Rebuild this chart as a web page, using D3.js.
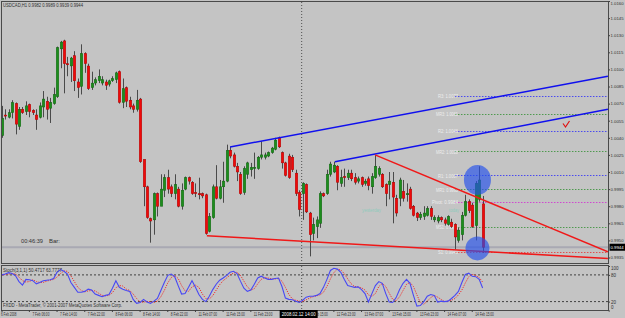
<!DOCTYPE html>
<html>
<head>
<meta charset="utf-8">
<script src="https://cdn.jsdelivr.net/npm/d3@7"></script>
<style>
  body { margin: 0; background: #c4c4c4; }
  svg { display: block; font-family: "Liberation Sans", Arial, sans-serif; }
</style>
</head>
<body>
<svg id="chart" width="625" height="318"></svg>
<script>
// USDCAD H1 candles, 6 Feb 22:00 .. 14 Feb 18:00 (bar index 0..139)
const opens = [1.0042,1.0060,1.0058,1.0062,1.0070,1.0050,1.0065,1.0063,1.0069,1.0064,
  1.0060,1.0058,1.0067,1.0072,1.0066,1.0070,1.0076,1.0118,1.0125,1.0105,
  1.0103,1.0112,1.0089,1.0085,1.0114,1.0103,1.0084,1.0088,1.0090,1.0088,
  1.0089,1.0087,1.0090,1.0091,1.0098,1.0071,1.0084,1.0073,1.0068,1.0065,
  1.0074,1.0021,0.9997,0.9969,0.9968,0.9991,0.9980,0.9994,1.0005,0.9997,
  0.9991,0.9995,0.9980,0.9995,1.0005,1.0001,0.9992,0.9991,0.9991,0.9990,
  0.9958,0.9970,0.9997,0.9987,0.9997,1.0002,1.0029,1.0025,1.0015,1.0008,
  0.9992,1.0008,1.0012,1.0014,1.0013,1.0023,1.0023,1.0024,1.0027,1.0030,
  1.0040,1.0027,1.0018,1.0024,1.0023,1.0009,0.9992,0.9991,0.9999,0.9974,
  0.9956,0.9962,0.9965,0.9991,0.9991,1.0008,1.0010,1.0015,1.0000,1.0006,
  1.0005,1.0009,1.0005,1.0002,1.0005,1.0000,1.0004,0.9997,1.0005,1.0008,
  1.0008,0.9999,0.9999,1.0001,0.9987,0.9987,0.9993,0.9990,0.9995,0.9980,
  0.9974,0.9970,0.9971,0.9972,0.9978,0.9968,0.9967,0.9970,0.9968,0.9964,
  0.9966,0.9964,0.9950,0.9955,0.9972,0.9984,0.9981,0.9963,0.9986,0.9982];
const highs = [1.0068,1.0065,1.0065,1.0073,1.0071,1.0067,1.0067,1.0072,1.0070,1.0065,
  1.0065,1.0071,1.0081,1.0076,1.0075,1.0084,1.0120,1.0125,1.0126,1.0111,
  1.0111,1.0116,1.0092,1.0122,1.0115,1.0105,1.0098,1.0093,1.0100,1.0094,
  1.0091,1.0091,1.0094,1.0098,1.0099,1.0092,1.0085,1.0076,1.0070,1.0082,
  1.0075,1.0021,0.9998,0.9970,0.9992,0.9992,1.0008,1.0008,1.0012,0.9999,
  1.0008,0.9997,1.0000,1.0006,1.0006,1.0002,1.0000,1.0005,0.9992,0.9991,
  0.9974,0.9999,1.0016,1.0003,1.0019,1.0034,1.0032,1.0027,1.0018,1.0010,
  1.0015,1.0019,1.0018,1.0027,1.0024,1.0037,1.0027,1.0028,1.0032,1.0040,
  1.0041,1.0028,1.0019,1.0026,1.0025,1.0012,0.9994,1.0001,1.0000,0.9975,
  0.9970,0.9971,0.9993,0.9992,1.0012,1.0019,1.0019,1.0016,1.0012,1.0013,
  1.0012,1.0012,1.0009,1.0006,1.0006,1.0004,1.0006,1.0009,1.0025,1.0015,
  1.0009,1.0000,1.0010,1.0010,0.9990,1.0005,1.0003,1.0000,0.9997,0.9981,
  0.9975,0.9975,0.9980,0.9980,0.9980,0.9972,0.9972,0.9971,0.9970,0.9972,
  0.9969,0.9965,0.9961,0.9975,0.9990,0.9986,0.9983,1.0002,1.0015,0.9989];
const lows = [1.0040,1.0056,1.0057,1.0057,1.0043,1.0047,1.0061,1.0060,1.0058,1.0060,
  1.0047,1.0057,1.0058,1.0056,1.0053,1.0069,1.0075,1.0101,1.0079,1.0094,
  1.0089,1.0081,1.0075,1.0078,1.0097,1.0082,1.0082,1.0086,1.0088,1.0086,
  1.0082,1.0085,1.0089,1.0088,1.0070,1.0066,1.0067,1.0065,1.0062,1.0063,
  1.0018,0.9980,0.9969,0.9948,0.9955,0.9971,0.9980,0.9988,0.9991,0.9988,
  0.9986,0.9979,0.9977,0.9994,0.9999,0.9990,0.9988,0.9986,0.9987,0.9955,
  0.9957,0.9969,0.9986,0.9986,0.9983,1.0001,1.0022,1.0014,1.0002,0.9990,
  0.9990,1.0004,1.0006,1.0004,1.0012,1.0021,1.0021,1.0023,1.0026,1.0029,
  1.0031,1.0013,1.0006,1.0004,1.0010,0.9989,0.9971,0.9968,0.9974,0.9936,
  0.9950,0.9952,0.9961,0.9988,0.9990,1.0006,1.0009,0.9994,0.9997,0.9997,
  1.0003,1.0002,0.9999,1.0000,0.9997,0.9998,0.9994,0.9991,1.0004,1.0006,
  0.9996,0.9980,0.9986,0.9965,0.9971,0.9980,0.9984,0.9984,0.9977,0.9971,
  0.9967,0.9968,0.9968,0.9971,0.9968,0.9966,0.9965,0.9966,0.9963,0.9963,
  0.9961,0.9942,0.9948,0.9950,0.9971,0.9974,0.9961,0.9950,0.9984,0.9939];
const closes = [1.0057,1.0059,1.0062,1.0071,1.0052,1.0065,1.0062,1.0068,1.0063,1.0062,
  1.0056,1.0068,1.0074,1.0065,1.0071,1.0078,1.0119,1.0124,1.0105,1.0104,
  1.0110,1.0090,1.0084,1.0114,1.0105,1.0083,1.0088,1.0091,1.0094,1.0091,
  1.0086,1.0090,1.0092,1.0097,1.0071,1.0083,1.0072,1.0067,1.0065,1.0073,
  1.0019,0.9997,0.9970,0.9967,0.9991,0.9980,0.9995,1.0005,0.9995,0.9991,
  0.9999,0.9980,0.9994,1.0005,1.0002,0.9991,0.9991,0.9990,0.9989,0.9956,
  0.9971,0.9997,0.9987,0.9997,1.0002,1.0029,1.0024,1.0015,1.0010,0.9991,
  1.0013,1.0018,1.0014,1.0014,1.0023,1.0025,1.0025,1.0027,1.0031,1.0038,
  1.0032,1.0018,1.0007,1.0005,1.0012,0.9991,0.9977,1.0000,0.9975,0.9955,
  0.9964,0.9968,0.9991,0.9989,1.0008,1.0017,1.0016,1.0001,1.0005,1.0005,
  1.0009,1.0004,1.0001,1.0004,0.9999,1.0002,0.9998,1.0006,1.0015,1.0013,
  0.9997,0.9991,1.0002,0.9988,0.9974,1.0003,0.9987,0.9991,0.9978,0.9972,
  0.9970,0.9973,0.9974,0.9978,0.9971,0.9970,0.9970,0.9968,0.9965,0.9971,
  0.9962,0.9953,0.9959,0.9972,0.9984,0.9976,0.9962,1.0000,1.0003,0.9944];

// Stochastic (3,1,1): main and signal
const stochMain = [80,82,85,83,78,65,57,70,69,67, 60,63,67,68,69,72,86,92,88,82,
  63,52,41,41,43,48,46,37,34,31, 34,36,50,67,52,48,45,43,25,16,
  18,25,19,16,21,27,45,63,79,82, 76,56,37,38,52,67,52,36,25,20,
  32,47,59,68,73,79,86,88,83,66, 50,43,46,59,73,77,73,70,70,72,
  73,54,28,25,24,21,18,23,30,32, 32,34,38,52,70,90,95,93,86,70,
  56,54,52,53,47,38,19,38,56,65, 61,38,19,18,29,47,61,70,61,34,
  10,11,20,32,36,34,19,21,20,21, 27,34,43,63,81,84,77,76,70,50.47];
const stochSignal = [79,81,82,83,82,75,67,64,65,69, 65,63,63,66,68,70,75,83,89,88,
  78,65,52,45,42,44,45,44,39,34, 33,34,40,51,56,55,48,45,37,27,
  19,19,20,20,18,21,31,45,62,74, 79,72,56,44,43,53,57,52,37,27,
  26,33,46,58,67,73,80,84,86,79, 66,53,46,49,60,70,74,73,71,71,
  72,66,52,36,26,23,21,20,24,28, 31,33,35,41,54,71,85,93,91,83,
  71,60,54,53,51,46,35,32,38,54, 61,54,39,25,22,31,45,59,63,54,
  35,18,14,21,29,34,30,25,20,21, 23,27,35,46,62,76,81,79,74,63.78];

// axis ticks
const priceTicks = [1.0160,1.0145,1.0130,1.0115,1.0100,1.0085,1.0070,1.0055,1.0040,
  1.0025,1.0010,0.9995,0.9980,0.9965,0.9950,0.9935];
const stochTicks = [100, 80, 20, 0];
const timeBars = [0,8,16,24,32,40,48,56,64,72,88,96,104,112,120,128,136];
const timeLabels = ["6 Feb 2008","7 Feb 06:00","7 Feb 14:00","7 Feb 22:00","8 Feb 06:00",
  "8 Feb 14:00","8 Feb 22:00","11 Feb 07:00","11 Feb 15:00","11 Feb 23:00",
  "12 Feb 15:00","12 Feb 23:00","13 Feb 07:00","13 Feb 15:00","13 Feb 23:00",
  "14 Feb 07:00","14 Feb 15:00"];

// daily pivot levels
const pivotNames = ["R3","MR3","R2","MR2","R1","MR1","Pivot","MS1","S1","MS2"];
const pivotValues = [1.0077,1.0061,1.0046,1.0028,1.0007,0.9995,0.9984,0.9962,0.9940,0.9929];
const pivotKinds = ["r","m","r","m","r","m","p","m","s","m"];

// trendlines, [bar, price] anchors
const blueLines = [[[66.0, 1.0032],[175.2, 1.0094]], [[96.3, 1.0019],[175.2, 1.0065]]];
const redLines = [[[107.9, 1.0025],[175.2, 0.9940]], [[59.3, 0.9954],[175.2, 0.99341]]];

const lastPrice = 0.9944;

// ---------------------------------------------------------------
const svg = d3.select("#chart");
const W = 625, H = 318;
const plotL = 2, plotR = 608, mainT = 2, mainB = 263, stT = 266, stB = 310;
const ink = "#303030";

svg.append("rect").attr("width", W).attr("height", H).attr("fill", "#c4c4c4");

const x = d3.scaleLinear().domain([0, 139]).range([1.7, 482.64]);
const y = d3.scaleLinear().domain([0.9935, 1.0160]).range([257.5, 1]);
const ys = d3.scaleLinear().domain([0, 100]).range([310.5, 266]);

// small condensed label like the MT4 screenshot text
function label(g, tx, ty, str, len, color) {
  return g.append("text").attr("x", tx).attr("y", ty)
    .attr("fill", color || ink).style("font-size", "5px")
    .attr("textLength", len).attr("lengthAdjust", "spacingAndGlyphs")
    .text(str);
}

const defs = svg.append("defs");
defs.append("clipPath").attr("id", "clipMain").append("rect")
  .attr("x", plotL).attr("y", mainT).attr("width", plotR - plotL).attr("height", mainB - mainT);
defs.append("clipPath").attr("id", "clipSt").append("rect")
  .attr("x", plotL).attr("y", stT).attr("width", plotR - plotL).attr("height", stB - stT);

const main = svg.append("g").attr("clip-path", "url(#clipMain)");
const st = svg.append("g").attr("clip-path", "url(#clipSt)");

// last price (bid) line
main.append("line")
  .attr("x1", plotL).attr("x2", plotR)
  .attr("y1", y(lastPrice)).attr("y2", y(lastPrice))
  .attr("stroke", "#a9a9b3").attr("stroke-width", 2);

// pivot levels
const pivotStart = x(131);
const pivotColor = { r: "#4a4af0", m: "#4f9a4f", p: "#d048d0", s: "#e05050" };
pivotValues.forEach((v, i) => {
  main.append("line")
    .attr("x1", pivotStart).attr("x2", plotR)
    .attr("y1", Math.round(y(v)) + 0.5).attr("y2", Math.round(y(v)) + 0.5)
    .attr("stroke", pivotColor[pivotKinds[i]]).attr("stroke-width", 1)
    .attr("stroke-dasharray", "1.5,1.5");
  if (pivotNames[i] !== "MS2") {
    const s = pivotNames[i] + ": " + v.toFixed(4);
    label(main, pivotStart + 3 - s.length * 2, y(v) + 2.5, s, s.length * 2, "#eeeeee");
  }
});

// day labels
label(main, 362, 212, "yesterday", 19, "#8fcbbd");
label(main, 449, 212, "today", 10, "#8fcbbd");

// crosshair vertical dotted line
const crossX = x(86.7);
svg.append("line").attr("x1", crossX).attr("x2", crossX).attr("y1", mainT).attr("y2", stB)
  .attr("stroke", "#505050").attr("stroke-dasharray", "1,2");

// candles
const bw = 2.6;
const candles = main.append("g");
opens.forEach((o, i) => {
  const c = closes[i];
  const cx = Math.round(x(i)) + 0.5;
  candles.append("line")
    .attr("x1", cx).attr("x2", cx)
    .attr("y1", y(highs[i])).attr("y2", y(lows[i]))
    .attr("stroke", "#4a4a4a").attr("stroke-width", 1);
  const top = y(Math.max(o, c)), bot = y(Math.min(o, c));
  candles.append("rect")
    .attr("x", cx - bw / 2).attr("y", top)
    .attr("width", bw).attr("height", Math.max(1, bot - top))
    .attr("fill", c >= o ? "#1d8d1d" : "#ee0a0a")
    .attr("stroke", c >= o ? "#0e5e0e" : "#a00000").attr("stroke-width", 0.4);
});

// trendlines
const tl = d3.line().x(d => x(d[0])).y(d => y(d[1]));
blueLines.forEach(l => main.append("path").attr("d", tl(l)).attr("fill", "none")
  .attr("stroke", "#1010ee").attr("stroke-width", 1.5));
redLines.forEach(l => main.append("path").attr("d", tl(l)).attr("fill", "none")
  .attr("stroke", "#f01818").attr("stroke-width", 1.5));

// highlight circles
main.append("ellipse").attr("cx", x(137.5)).attr("cy", y(1.0003))
  .attr("rx", 13.5).attr("ry", 15).attr("fill", "#2450ec").attr("opacity", 0.65);
main.append("ellipse").attr("cx", x(137.5)).attr("cy", y(0.9943))
  .attr("rx", 12).attr("ry", 12).attr("fill", "#2450ec").attr("opacity", 0.65);

// red tick mark
main.append("path").attr("d", "M563,123.5 L565.5,127 L569.5,121")
  .attr("fill", "none").attr("stroke", "#e01010").attr("stroke-width", 1.2);

// stochastic
[80, 20].forEach(v => st.append("line")
  .attr("x1", plotL).attr("x2", plotR).attr("y1", ys(v)).attr("y2", ys(v))
  .attr("stroke", "#404040").attr("stroke-dasharray", "2,2"));
const sl = d3.line().x((d, i) => x(i)).y(d => ys(d));
st.append("path").attr("d", sl(stochSignal)).attr("fill", "none")
  .attr("stroke", "#f03030").attr("stroke-width", 1).attr("stroke-dasharray", "1.2,1.2");
st.append("path").attr("d", sl(stochMain)).attr("fill", "none")
  .attr("stroke", "#4848f4").attr("stroke-width", 1.1);

// borders
svg.append("rect").attr("x", plotL - 0.5).attr("y", mainT - 0.5)
  .attr("width", plotR - plotL + 1).attr("height", mainB - mainT + 1)
  .attr("fill", "none").attr("stroke", "#4a4a4a");
svg.append("rect").attr("x", plotL - 0.5).attr("y", stT - 0.5)
  .attr("width", plotR - plotL + 1).attr("height", stB - stT + 1)
  .attr("fill", "none").attr("stroke", "#4a4a4a");

// price axis
const yAxis = svg.append("g").attr("transform", `translate(${plotR + 0.5},0)`)
  .call(d3.axisRight(y).tickValues(priceTicks).tickFormat(d3.format(".4f")).tickSize(1.5).tickPadding(0.5));
yAxis.select(".domain").remove();
yAxis.selectAll("text").style("font-size", "4.3px").attr("fill", ink)
  .attr("y", d => d === 1.0160 ? 2.5 : 0);
yAxis.selectAll("line").attr("stroke", "#404040");

// last price box
svg.append("rect").attr("x", 609.5).attr("y", y(lastPrice) - 3.5).attr("width", 15.5).attr("height", 7)
  .attr("fill", "#000");
svg.append("text").attr("x", 610.5).attr("y", y(lastPrice) + 1.6).attr("fill", "#fff")
  .style("font-size", "4.3px").text(lastPrice.toFixed(4));

// stochastic axis
const sAxis = svg.append("g").attr("transform", `translate(${plotR + 0.5},0)`)
  .call(d3.axisRight(ys).tickValues(stochTicks).tickSize(1.5).tickPadding(1));
sAxis.select(".domain").remove();
sAxis.selectAll("text").style("font-size", "4.5px").attr("fill", ink)
  .attr("y", d => d === 100 ? 2 : (d === 0 ? -3 : 0));
sAxis.selectAll("line").attr("stroke", "#404040");

// time axis
const tAxis = svg.append("g");
timeBars.forEach((b, i) => {
  const tx = b === 0 ? plotL : x(b);
  tAxis.append("line").attr("x1", tx).attr("x2", tx).attr("y1", stB).attr("y2", stB + 2)
    .attr("stroke", "#404040");
  label(tAxis, b === 0 ? 1 : tx + 3, 315.5, timeLabels[i], timeLabels[i].length * 1.55);
});
// crosshair time box
svg.append("rect").attr("x", crossX - 22).attr("y", 310).attr("width", 38).attr("height", 8)
  .attr("fill", "#000");
label(svg, crossX - 20, 316, "2008.02.12 14:00", 34, "#fff");

// texts
label(svg, 3, 7, "USDCAD,H1  0.9982 0.9989 0.9939 0.9944", 80);
label(svg, 21, 243, "00:46:39", 22);
label(svg, 49, 243, "Bar:", 11);
label(svg, 3, 272, "Stoch(3,1,1) 50.4717 63.7777", 59);
label(svg, 3, 306.5, "FXDD - MetaTrader, © 2001-2007 MetaQuotes Software Corp.", 119);
</script>
</body>
</html>
